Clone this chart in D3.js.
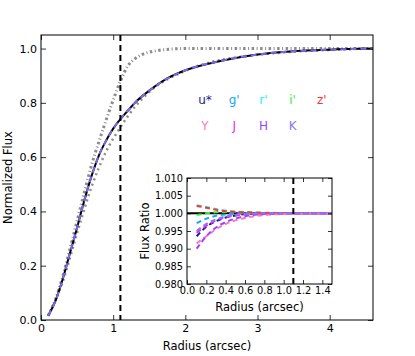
<!DOCTYPE html>
<html>
<head>
<meta charset="utf-8">
<script src="https://cdn.jsdelivr.net/npm/d3@7"></script>
<style>
  body { margin: 0; background: #fff; }
  svg text { font-family: "DejaVu Sans", sans-serif; }
</style>
</head>
<body>
<svg id="chart"></svg>
<script>
// ---- data ----
// main curve of growth (radius in arcsec, normalized flux)
var mainR    = [0.1, 0.2, 0.3, 0.4, 0.5, 0.6, 0.7, 0.8, 0.9, 1.0, 1.1, 1.2, 1.3, 1.5, 1.75, 2.0, 2.5, 3.0, 3.5, 4.0, 4.6];
var mainFlux = [0.016, 0.07, 0.15, 0.245, 0.34, 0.44, 0.53, 0.605, 0.66, 0.705, 0.74, 0.77, 0.80, 0.845, 0.89, 0.92, 0.955, 0.978, 0.99, 0.996, 1.0];

// gray dotted curves (psf-ish fast one, and a slightly slower one)
var fastR    = [0.1, 0.2, 0.3, 0.4, 0.5, 0.6, 0.7, 0.8, 0.9, 1.0, 1.1, 1.2, 1.3, 1.4, 1.6, 1.8, 2.0, 3.0, 4.6];
var fastFlux = [0.017, 0.075, 0.16, 0.26, 0.365, 0.47, 0.57, 0.655, 0.735, 0.81, 0.88, 0.935, 0.962, 0.978, 0.992, 0.998, 1.0, 1.0, 1.0];
var slowR    = [0.1, 0.3, 0.5, 0.7, 0.9, 1.1, 1.3, 1.5, 2.0, 3.0, 4.6];
var slowFlux = [0.015, 0.14, 0.32, 0.49, 0.62, 0.71, 0.785, 0.84, 0.918, 0.977, 1.0];

// inset: flux ratio per filter
var ratioR = [0.1, 0.2, 0.3, 0.4, 0.5, 0.6, 0.8, 1.0, 1.5];
var filters = ["u*", "g'", "r'", "i'", "z'", "Y", "J", "H", "K"];
var filterColors = ["#1a1a8c", "#11aaee", "#22eeff", "#33ee33", "#ff3333", "#ff77bb", "#ee22ee", "#a040ff", "#8877ff"];
var ratioU = [0.9935, 0.9962, 0.9978, 0.9988, 0.9994, 0.9998, 1.0, 1.0, 1.0];
var ratioG = [0.9972, 0.9985, 0.9993, 0.9997, 0.9999, 1.0, 1.0, 1.0, 1.0];
var ratioRr = [1.0023, 1.0018, 1.0012, 1.0008, 1.0005, 1.0003, 1.0001, 1.0, 1.0];
var ratioI = [0.9995, 1.0, 1.0003, 1.0004, 1.0004, 1.0003, 1.0002, 1.0001, 1.0];
var ratioZ = [1.0021, 1.0016, 1.001, 1.0006, 1.0004, 1.0003, 1.0001, 1.0, 1.0];
var ratioY = [0.9915, 0.9935, 0.9955, 0.997, 0.998, 0.9987, 0.9995, 0.9998, 1.0];
var ratioJ = [0.9945, 0.9965, 0.998, 0.9989, 0.9994, 0.9997, 1.0, 1.0, 1.0];
var ratioH = [0.990, 0.9935, 0.996, 0.9975, 0.9985, 0.9992, 0.9998, 1.0, 1.0];
var ratioK = [0.995, 0.997, 0.9983, 0.9991, 0.9996, 0.9999, 1.0, 1.0, 1.0];
var ratios = [ratioU, ratioG, ratioRr, ratioI, ratioZ, ratioY, ratioJ, ratioH, ratioK];

var apertureR = 1.1;

var mainXTicks = [0, 1, 2, 3, 4];
var mainYTicks = [0.0, 0.2, 0.4, 0.6, 0.8, 1.0];
var insetXTicks = [0.0, 0.2, 0.4, 0.6, 0.8, 1.0, 1.2, 1.4];
var insetYTicks = [0.980, 0.985, 0.990, 0.995, 1.000, 1.005, 1.010];

// ---- layout ----
var W = 415, H = 356;
var margin = {top: 35, right: 42, bottom: 36, left: 41},
    width = W - margin.left - margin.right,
    height = H - margin.top - margin.bottom;

var svg = d3.select("#chart").attr("width", W).attr("height", H);
var g = svg.append("g")
    .attr("transform", "translate(" + margin.left + "," + margin.top + ")");

var x = d3.scaleLinear().domain([0, 4.6]).range([0, width]);
var y = d3.scaleLinear().domain([0, 1.05]).range([height, 0]);

function zip(a, b) { return a.map(function(v, i) { return [v, b[i]]; }); }

// axes with inward ticks on all four sides
function drawAxes(grp, xs, ys, w, h, xt, yt, xfmt, yfmt, fs, tl) {
  var xb = d3.axisBottom(xs).tickValues(xt).tickSizeInner(-tl).tickSizeOuter(0).tickPadding(4).tickFormat(xfmt);
  var xtp = d3.axisTop(xs).tickValues(xt).tickSizeInner(-tl).tickSizeOuter(0).tickFormat("");
  var yl = d3.axisLeft(ys).tickValues(yt).tickSizeInner(-tl).tickSizeOuter(0).tickPadding(4).tickFormat(yfmt);
  var yr = d3.axisRight(ys).tickValues(yt).tickSizeInner(-tl).tickSizeOuter(0).tickFormat("");
  grp.append("g").attr("class", "xbottom").attr("transform", "translate(0," + h + ")").call(xb);
  grp.append("g").call(xtp);
  grp.append("g").call(yl);
  grp.append("g").attr("transform", "translate(" + w + ",0)").call(yr);
  grp.selectAll(".domain").remove();
  grp.selectAll(".tick line").attr("stroke", "#000").attr("stroke-width", 0.8);
  grp.selectAll(".tick text").attr("font-size", fs).attr("fill", "#000")
     .style("font-family", "DejaVu Sans");
  grp.append("rect").attr("width", w).attr("height", h)
     .attr("fill", "none").attr("stroke", "#000").attr("stroke-width", 1);
}

var line = d3.line()
    .x(function(d) { return x(d[0]); })
    .y(function(d) { return y(d[1]); })
    .curve(d3.curveMonotoneX);

g.append("clipPath").attr("id", "mainclip")
    .append("rect").attr("width", width).attr("height", height);
var plot = g.append("g").attr("clip-path", "url(#mainclip)");

// gray dotted curves
plot.append("path").datum(zip(slowR, slowFlux))
    .attr("d", line).attr("fill", "none")
    .attr("stroke", "#8c8c8c").attr("stroke-width", 2.5)
    .attr("stroke-dasharray", "2,3.5");
plot.append("path").datum(zip(fastR, fastFlux))
    .attr("d", line).attr("fill", "none")
    .attr("stroke", "#8c8c8c").attr("stroke-width", 3)
    .attr("stroke-dasharray", "2.5,2.5,1,2.5");

// main curve: black solid with dashed coloured copy on top
plot.append("path").datum(zip(mainR, mainFlux))
    .attr("d", line).attr("fill", "none")
    .attr("stroke", "#000").attr("stroke-width", 2);
plot.append("path").datum(zip(mainR, mainFlux))
    .attr("d", line).attr("fill", "none")
    .attr("stroke", "#7b68ee").attr("stroke-width", 2)
    .attr("stroke-dasharray", "6,4");

// aperture line
plot.append("line")
    .attr("x1", x(apertureR)).attr("x2", x(apertureR))
    .attr("y1", 0).attr("y2", height)
    .attr("stroke", "#000").attr("stroke-width", 2)
    .attr("stroke-dasharray", "6,4");

drawAxes(g, x, y, width, height, mainXTicks, mainYTicks,
         d3.format("d"), d3.format(".1f"), "11px", 5);

// axis titles
g.append("text")
    .attr("x", width / 2).attr("y", height + 30)
    .attr("text-anchor", "middle").attr("font-size", "11.5px")
    .text("Radius (arcsec)");
g.append("text")
    .attr("transform", "rotate(-90)")
    .attr("x", -height / 2).attr("y", -29)
    .attr("text-anchor", "middle").attr("font-size", "11.5px")
    .text("Normalized Flux");

// filter labels
var labelPos = [[0, 0], [1, 0], [2, 0], [3, 0], [4, 0], [0, 1], [1, 1], [2, 1], [3, 1]];
g.selectAll(".flabel").data(filters).enter().append("text")
    .attr("class", "flabel")
    .attr("x", function(d, i) { return 164 + labelPos[i][0] * 29.2; })
    .attr("y", function(d, i) { return 69 + labelPos[i][1] * 26; })
    .attr("text-anchor", "middle").attr("font-size", "12px")
    .attr("fill", function(d, i) { return filterColors[i]; })
    .text(function(d) { return d; });

// ---- inset ----
var ix0 = 187, iy0 = 178, iw = 145, ih = 106;
var inset = svg.append("g").attr("transform", "translate(" + ix0 + "," + iy0 + ")");
inset.append("rect").attr("width", iw).attr("height", ih).attr("fill", "#fff");

var xi = d3.scaleLinear().domain([0, 1.5]).range([0, iw]);
var yi = d3.scaleLinear().domain([0.980, 1.010]).range([ih, 0]);

inset.append("clipPath").attr("id", "insetclip")
    .append("rect").attr("width", iw).attr("height", ih);
var iplot = inset.append("g").attr("clip-path", "url(#insetclip)");

iplot.append("line")
    .attr("x1", 0).attr("x2", iw)
    .attr("y1", yi(1.0)).attr("y2", yi(1.0))
    .attr("stroke", "#000").attr("stroke-width", 2);

var iline = d3.line()
    .x(function(d) { return xi(d[0]); })
    .y(function(d) { return yi(d[1]); })
    .curve(d3.curveMonotoneX);

iplot.selectAll(".ratio").data(ratios).enter().append("path")
    .attr("class", "ratio")
    .attr("d", function(d) { return iline(zip(ratioR, d)); })
    .attr("fill", "none")
    .attr("stroke", function(d, i) { return filterColors[i]; })
    .attr("stroke-width", 2)
    .attr("stroke-dasharray", "5,3.5");

iplot.append("line")
    .attr("x1", xi(apertureR)).attr("x2", xi(apertureR))
    .attr("y1", 0).attr("y2", ih)
    .attr("stroke", "#000").attr("stroke-width", 2)
    .attr("stroke-dasharray", "6,4");

drawAxes(inset, xi, yi, iw, ih, insetXTicks, insetYTicks,
         d3.format(".1f"), d3.format(".3f"), "9.8px", 4);
inset.selectAll(".xbottom .tick text").attr("dy", "0.6em");

inset.append("text")
    .attr("x", iw / 2).attr("y", ih + 27)
    .attr("text-anchor", "middle").attr("font-size", "11.5px")
    .text("Radius (arcsec)");
inset.append("text")
    .attr("transform", "rotate(-90)")
    .attr("x", -ih / 2).attr("y", -38)
    .attr("text-anchor", "middle").attr("font-size", "11.5px")
    .text("Flux Ratio");
</script>
</body>
</html>
